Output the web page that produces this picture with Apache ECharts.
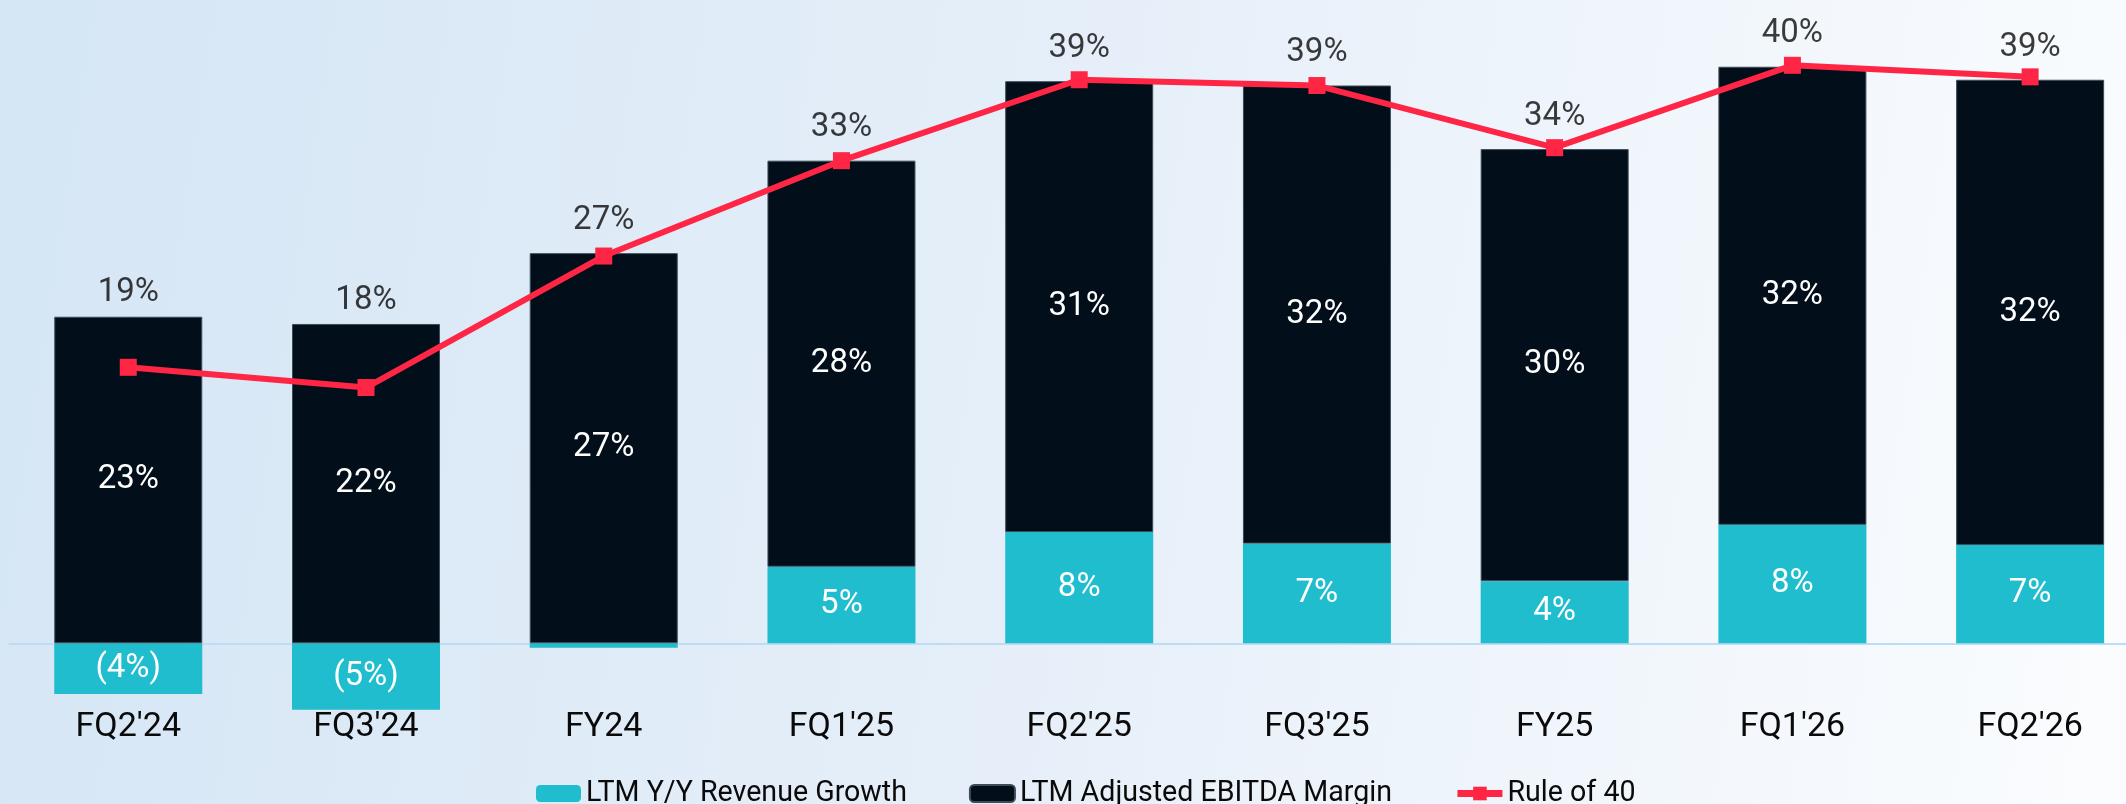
<!DOCTYPE html>
<html>
<head>
<meta charset="utf-8">
<title>Rule of 40</title>
<script src="https://cdn.jsdelivr.net/npm/echarts@6/dist/echarts.min.js"></script>
<style>
  html, body { margin: 0; padding: 0; }
  #chart { width: 2126px; height: 804px; }
</style>
</head>
<body>
<div id="chart"></div>
<script>
const periods = ["FQ2'24", "FQ3'24", 'FY24', "FQ1'25", "FQ2'25", "FQ3'25", 'FY25', "FQ1'26", "FQ2'26"]
// LTM Y/Y revenue growth, %
const revenueGrowth = [-3.5, -4.6, -0.3, 5.3, 7.7, 6.9, 4.3, 8.2, 6.8]
// LTM adjusted EBITDA margin, %
const ebitdaMargin = [22.6, 22.1, 27.0, 28.1, 31.2, 31.7, 29.9, 31.7, 32.2]
// Rule of 40 (growth + margin), %
const ruleOf40 = [19.1, 17.7, 26.8, 33.4, 39.0, 38.6, 34.3, 40.0, 39.2]

const TEAL = '#20bdcf'
const NAVY = '#020f1a'
const RED = '#ff2645'
const FONT = 'Roboto'

function pct(v) {
  const r = Math.round(Math.abs(v))
  if (r === 0) return ''
  return v < 0 ? '(' + r + '%)' : r + '%'
}

// label anchor for rule of 40: top of the stacked bar,
// pushed up a little more when the line marker sits on the bar top
const topLabels = periods.map((p, i) => {
  const top = ebitdaMargin[i] + Math.max(revenueGrowth[i], 0)
  const onTop = ruleOf40[i] >= top - 1
  return { value: top, label: { distance: onTop ? 16 : 7 } }
})

const chart = echarts.init(document.getElementById('chart'))

chart.setOption({
  backgroundColor: {
    type: 'linear',
    x: 0, y: 0.3, x2: 1, y2: 0.7,
    colorStops: [
      { offset: 0, color: '#d5e6f5' },
      { offset: 0.5, color: '#e6eff9' },
      { offset: 1, color: '#fafcfe' }
    ]
  },
  textStyle: { fontFamily: FONT },
  animation: false,
  legend: {
    data: ['LTM Y/Y Revenue Growth', 'LTM Adjusted EBITDA Margin', 'Rule of 40'],
    left: 536,
    top: 779,
    padding: 0,
    itemWidth: 45,
    itemHeight: 17,
    itemGap: 62,
    lineStyle: { width: 7 },
    textStyle: { color: '#0a0a0a', fontSize: 28.6, fontFamily: FONT }
  },
  grid: {
    left: 9.4, right: -23, top: 65.3, bottom: 160.7,
    containLabel: false,
    outerBoundsMode: 'none'
  },
  xAxis: {
    type: 'category',
    data: periods,
    axisTick: { show: false },
    axisLine: { lineStyle: { color: '#bddcf6', width: 2 } },
    axisLabel: { color: '#0a0a0a', fontSize: 34, fontFamily: FONT, margin: 67 }
  },
  yAxis: {
    type: 'value',
    min: 0,
    max: 40,
    show: false,
    splitLine: { show: false }
  },
  series: [
    {
      name: 'LTM Y/Y Revenue Growth',
      type: 'bar',
      stack: 'r40',
      barWidth: 148,
      clip: false,
      data: revenueGrowth,
      itemStyle: { color: TEAL },
      label: {
        show: true,
        position: 'inside',
        color: '#fff',
        fontSize: 33,
        fontFamily: FONT,
        formatter: p => pct(p.value)
      }
    },
    {
      name: 'LTM Adjusted EBITDA Margin',
      type: 'bar',
      stack: 'r40',
      barWidth: 148,
      clip: false,
      data: ebitdaMargin,
      itemStyle: { color: NAVY, borderColor: '#3e4c58', borderWidth: 1 },
      label: {
        show: true,
        position: 'inside',
        color: '#fff',
        fontSize: 33,
        fontFamily: FONT,
        formatter: p => pct(p.value)
      }
    },
    {
      name: 'Rule of 40',
      type: 'line',
      data: ruleOf40,
      symbol: 'rect',
      symbolSize: 17,
      clip: false,
      z: 5,
      lineStyle: { color: RED, width: 6 },
      itemStyle: { color: RED }
    },
    {
      name: 'r40-labels',
      type: 'scatter',
      data: topLabels,
      symbolSize: 0,
      silent: true,
      clip: false,
      z: 6,
      label: {
        show: true,
        position: 'top',
        color: '#0a0a0a',
        fontSize: 33,
        fontFamily: FONT,
        formatter: p => pct(ruleOf40[p.dataIndex])
      }
    }
  ]
})
</script>
</body>
</html>
